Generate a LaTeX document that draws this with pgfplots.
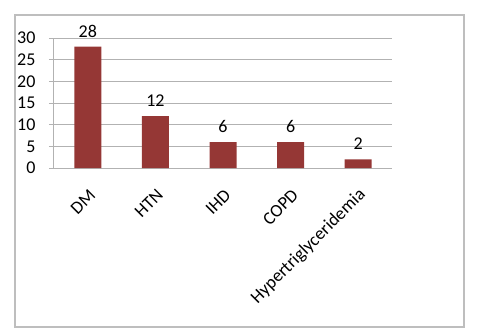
\documentclass[border=0pt]{standalone}
\usepackage{pgfplots}
\pgfplotsset{compat=1.18}
\usepackage{fontspec}
\setmainfont{Carlito}
\definecolor{barred}{RGB}{149,55,53}
\definecolor{gridgray}{RGB}{178,178,178}
\definecolor{framegray}{RGB}{190,190,190}
\begin{document}
\begin{tikzpicture}[x=1pt,y=1pt]
\path[use as bounding box] (0,0) rectangle (479,335);
\draw[framegray, line width=1.2pt] (15,8) rectangle (464,320);
\begin{axis}[
  at={(54pt,167pt)}, anchor=south west,
  scale only axis, width=338pt, height=130pt,
  xmin=-0.5, xmax=4.5, ymin=0, ymax=30,
  ytick={0,5,...,30},
  xtick={0,...,4},
  xticklabels={DM,HTN,IHD,COPD,Hypertriglyceridemia},
  major x tick style={draw=none},
  extra x ticks={-0.5,0.5,1.5,2.5,3.5,4.5},
  extra x tick labels={},
  extra x tick style={grid=none, tick style={draw=gridgray, line width=1pt}, major tick length=6pt},
  tick align=outside,
  axis x line*=bottom, axis y line*=left,
  axis line style={gridgray, line width=1pt, -},
  ymajorgrids, grid style={gridgray, line width=1pt},
  major tick length=5pt,
  ytick style={gridgray, line width=1pt},
  /pgf/number format/assume math mode=true,
  tick label style={font=\fontsize{18}{21}\selectfont, black},
  yticklabel style={xshift=-10pt},
  xticklabel style={rotate=45, anchor=east, yshift=-17pt, xshift=-7pt},
  ybar, bar width=27pt,
  nodes near coords,
  every node near coord/.append style={font=\fontsize{18}{21}\selectfont, black, yshift=6pt},
]
\addplot[fill=barred, draw=none] coordinates {(0,28) (1,12) (2,6) (3,6) (4,2)};
\end{axis}
\end{tikzpicture}
\end{document}
